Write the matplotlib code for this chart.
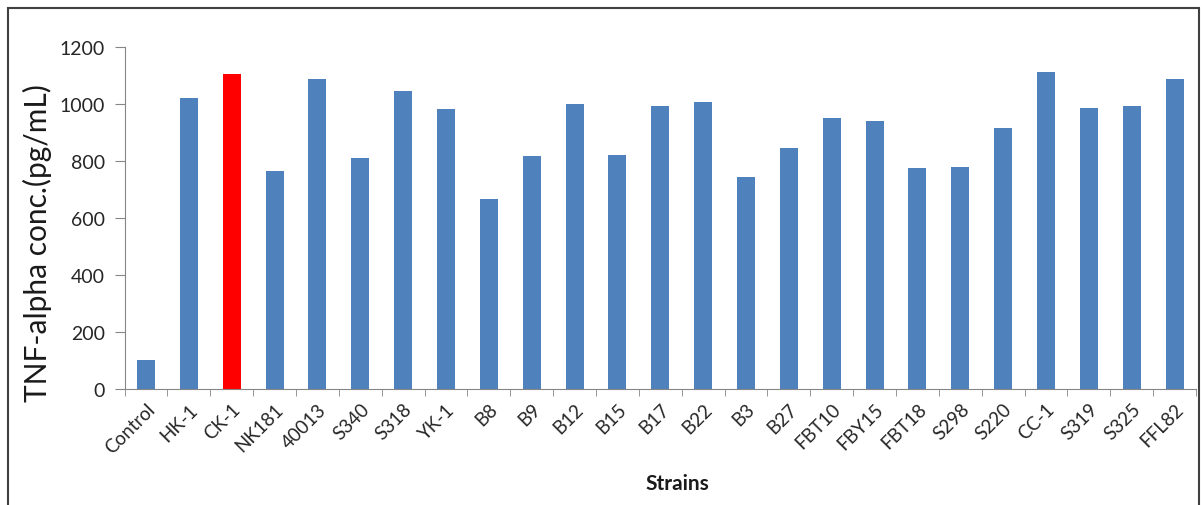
import matplotlib
matplotlib.use("Agg")
import matplotlib.pyplot as plt
from matplotlib.patches import Rectangle
import numpy as np

strains = ["Control", "HK-1", "CK-1", "NK181", "40013", "S340", "S318", "YK-1",
           "B8", "B9", "B12", "B15", "B17", "B22", "B3", "B27", "FBT10", "FBY15",
           "FBT18", "S298", "S220", "CC-1", "S319", "S325", "FFL82"]
tnf_alpha = [102, 1022, 1107, 765, 1087, 810, 1046, 982,
             667, 816, 1000, 821, 993, 1006, 744, 846, 951, 940,
             775, 779, 916, 1111, 986, 992, 1087]
highlight = "CK-1"

plt.rcParams["font.family"] = ["Lato", "DejaVu Sans"]

fig = plt.figure(figsize=(12.02, 5.06), dpi=100)
ax = fig.add_axes([0.1036, 0.2292, 0.8914, 0.6758])

x = np.arange(len(strains))
colors = ["#FF0000" if s == highlight else "#4F81BD" for s in strains]
ax.bar(x, tnf_alpha, width=0.42, color=colors)

ax.set_xlim(-0.5, len(strains) - 0.5)
ax.set_ylim(0, 1200)
ax.set_yticks(np.arange(0, 1201, 200))
ax.tick_params(axis="y", labelsize=14, labelcolor="#262626", color="#868686",
               length=7, pad=7, direction="out")

# category labels sit under the bars, tick marks go between them
ax.set_xticks(x)
ax.set_xticklabels(strains, rotation=45, ha="right", rotation_mode="anchor",
                   fontsize=13.5, color="#262626")
ax.tick_params(axis="x", which="major", length=0, pad=8)
ax.set_xticks(np.arange(-0.5, len(strains), 1), minor=True)
ax.tick_params(axis="x", which="minor", length=5, color="#868686")

for side in ["top", "right"]:
    ax.spines[side].set_visible(False)
for side in ["left", "bottom"]:
    ax.spines[side].set_color("#868686")

ax.set_ylabel("TNF-alpha conc.(pg/mL)", fontsize=21.5, color="#1a1a1a")
ax.yaxis.set_label_coords(-0.068, 0.43)
ax.set_xlabel("Strains", fontsize=15, fontweight="bold", color="#1a1a1a")
ax.xaxis.set_label_coords(0.516, -0.245)

# outer frame around the figure
fig.add_artist(Rectangle((8 / 1202, -0.05), 1191 / 1202, 1.05 - 9 / 506,
                         transform=fig.transFigure, fill=False,
                         ec="#404040", lw=1.5))

fig.savefig("out.png", dpi=100)
